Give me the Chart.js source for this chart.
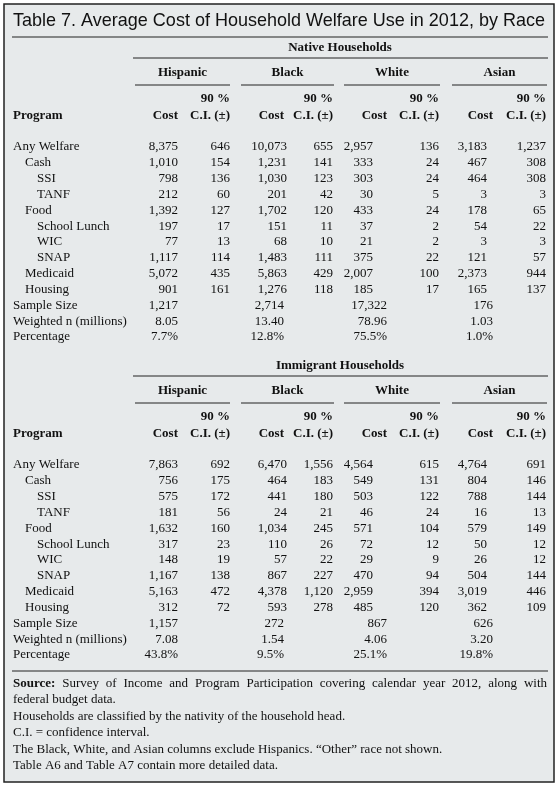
<!DOCTYPE html>
<html>
<head>
<meta charset="utf-8">
<script src="https://cdn.jsdelivr.net/npm/chart.js@4/dist/chart.umd.min.js"></script>
<style>
  html, body { margin: 0; padding: 0; background: #fff; }
  #wrap { width: 558px; height: 785px; }
</style>
</head>
<body>
<div id="wrap"><canvas id="chart" width="558" height="785"></canvas></div>
<script>
// datos de la tabla
const titulo = 'Table 7. Average Cost of Household Welfare Use in 2012, by Race';
const grupos = ['Hispanic', 'Black', 'White', 'Asian'];
const programas = ['Any Welfare', 'Cash', 'SSI', 'TANF', 'Food', 'School Lunch', 'WIC', 'SNAP', 'Medicaid', 'Housing'];
const sangria = [0, 1, 2, 2, 1, 2, 2, 2, 1, 1];
const filasExtra = ['Sample Size', 'Weighted n (millions)', 'Percentage'];

const nativosCosto = [
  ['8,375', '10,073', '2,957', '3,183'],
  ['1,010', '1,231', '333', '467'],
  ['798', '1,030', '303', '464'],
  ['212', '201', '30', '3'],
  ['1,392', '1,702', '433', '178'],
  ['197', '151', '37', '54'],
  ['77', '68', '21', '3'],
  ['1,117', '1,483', '375', '121'],
  ['5,072', '5,863', '2,007', '2,373'],
  ['901', '1,276', '185', '165']
];
const nativosCI = [
  ['646', '655', '136', '1,237'],
  ['154', '141', '24', '308'],
  ['136', '123', '24', '308'],
  ['60', '42', '5', '3'],
  ['127', '120', '24', '65'],
  ['17', '11', '2', '22'],
  ['13', '10', '2', '3'],
  ['114', '111', '22', '57'],
  ['435', '429', '100', '944'],
  ['161', '118', '17', '137']
];
const nativosExtra = [
  ['1,217', '2,714', '17,322', '176'],
  ['8.05', '13.40', '78.96', '1.03'],
  ['7.7%', '12.8%', '75.5%', '1.0%']
];

const inmigCosto = [
  ['7,863', '6,470', '4,564', '4,764'],
  ['756', '464', '549', '804'],
  ['575', '441', '503', '788'],
  ['181', '24', '46', '16'],
  ['1,632', '1,034', '571', '579'],
  ['317', '110', '72', '50'],
  ['148', '57', '29', '26'],
  ['1,167', '867', '470', '504'],
  ['5,163', '4,378', '2,959', '3,019'],
  ['312', '593', '485', '362']
];
const inmigCI = [
  ['692', '1,556', '615', '691'],
  ['175', '183', '131', '146'],
  ['172', '180', '122', '144'],
  ['56', '21', '24', '13'],
  ['160', '245', '104', '149'],
  ['23', '26', '12', '12'],
  ['19', '22', '9', '12'],
  ['138', '227', '94', '144'],
  ['472', '1,120', '394', '446'],
  ['72', '278', '120', '109']
];
const inmigExtra = [
  ['1,157', '272', '867', '626'],
  ['7.08', '1.54', '4.06', '3.20'],
  ['43.8%', '9.5%', '25.1%', '19.8%']
];

const notas = [
  'federal budget data.',
  'Households are classified by the nativity of the household head.',
  'C.I. = confidence interval.',
  'The Black, White, and Asian columns exclude Hispanics. “Other” race not shown.',
  'Table A6 and Table A7 contain more detailed data.'
];
const fuente = 'Survey of Income and Program Participation covering calendar year 2012, along with';

// posiciones de columnas (en unidades de la escala x)
const colCosto = [178, 287, 373, 487];
const colCostoTit = [178, 284, 387, 493];
const colCI = [230, 333, 439, 546];
const grupoIzq = [135, 241, 344, 452];
const grupoDer = [230, 334, 440, 547];

const serif = '"Liberation Serif", "DejaVu Serif", serif';
const paso = 15.83;

const tablaPlugin = {
  id: 'tabla',
  beforeDraw(c) {
    const ctx = c.ctx;
    const xs = c.scales.x, ys = c.scales.y;
    const X = v => xs.getPixelForValue(v);
    const Y = v => ys.getPixelForValue(v);

    ctx.save();
    ctx.fillStyle = '#e7eaeb';
    ctx.fillRect(X(4), Y(4), X(554) - X(4), Y(782) - Y(4));
    ctx.strokeStyle = '#222';
    ctx.lineWidth = 1.5;
    ctx.strokeRect(X(4), Y(4), X(554) - X(4), Y(782) - Y(4));

    function linea(x1, x2, y, w) {
      ctx.beginPath();
      ctx.lineWidth = w || 1;
      ctx.moveTo(X(x1), Y(y));
      ctx.lineTo(X(x2), Y(y));
      ctx.stroke();
    }
    function texto(t, x, y, align, font) {
      ctx.font = font || ('13px ' + serif);
      ctx.textAlign = align || 'left';
      ctx.textBaseline = 'middle';
      ctx.fillStyle = '#111';
      ctx.fillText(t, X(x), Y(y));
    }

    // titulo ajustado al ancho
    ctx.font = '19px "Liberation Sans", Arial, sans-serif';
    const anchoTit = ctx.measureText(titulo).width;
    const esc = (X(545) - X(13)) / anchoTit;
    ctx.save();
    ctx.translate(X(13), Y(21));
    ctx.scale(esc, 1);
    ctx.textAlign = 'left';
    ctx.textBaseline = 'middle';
    ctx.fillStyle = '#111';
    ctx.fillText(titulo, 0, 0);
    ctx.restore();
    linea(12, 548, 37, 1.2);

    function seccion(nombre, y0, costos, cis, extra) {
      const bold = 'bold 13px ' + serif;
      texto(nombre, 340, y0, 'center', bold);
      linea(133, 548, y0 + 10, 1);
      grupos.forEach((g, i) => {
        texto(g, (grupoIzq[i] + grupoDer[i]) / 2, y0 + 25, 'center', bold);
        linea(grupoIzq[i], grupoDer[i], y0 + 37, 1);
        texto('90 %', colCI[i], y0 + 51, 'right', bold);
        texto('Cost', colCostoTit[i], y0 + 68, 'right', bold);
        texto('C.I. (±)', colCI[i], y0 + 68, 'right', bold);
      });
      texto('Program', 13, y0 + 68, 'left', bold);
      const f0 = y0 + 99;
      programas.forEach((p, r) => {
        const y = f0 + r * paso;
        texto(p, 13 + sangria[r] * 12, y);
        for (let i = 0; i < 4; i++) {
          texto(costos[r][i], colCosto[i], y, 'right');
          texto(cis[r][i], colCI[i], y, 'right');
        }
      });
      filasExtra.forEach((p, k) => {
        const y = f0 + (programas.length + k) * paso;
        texto(p, 13, y);
        for (let i = 0; i < 4; i++) texto(extra[k][i], colCostoTit[i], y, 'right');
      });
    }

    seccion('Native Households', 48, nativosCosto, nativosCI, nativosExtra);
    seccion('Immigrant Households', 366, inmigCosto, inmigCI, inmigExtra);
    linea(12, 548, 671, 1);

    // primera nota justificada
    const f13 = '13px ' + serif;
    texto('Source:', 13, 684, 'left', 'bold 13px ' + serif);
    ctx.font = 'bold 13px ' + serif;
    let x = X(13) + ctx.measureText('Source:').width;
    ctx.font = f13;
    const palabras = fuente.split(' ');
    const total = palabras.reduce((s, w) => s + ctx.measureText(w).width, 0);
    const hueco = (X(547) - x - total) / palabras.length;
    palabras.forEach(w => {
      x += hueco;
      ctx.fillText(w, x, Y(684));
      x += ctx.measureText(w).width;
    });
    notas.forEach((n, k) => texto(n, 13, 700 + k * 16.4, 'left', f13));
    ctx.restore();
  }
};

new Chart(document.getElementById('chart').getContext('2d'), {
  type: 'scatter',
  data: { datasets: [{ data: [] }] },
  options: {
    responsive: false,
    animation: false,
    layout: { padding: 0 },
    plugins: { legend: { display: false }, tooltip: { enabled: false } },
    scales: {
      x: { type: 'linear', min: 0, max: 558, display: false },
      y: { type: 'linear', min: 0, max: 785, reverse: true, display: false }
    }
  },
  plugins: [tablaPlugin]
});
</script>
</body>
</html>
